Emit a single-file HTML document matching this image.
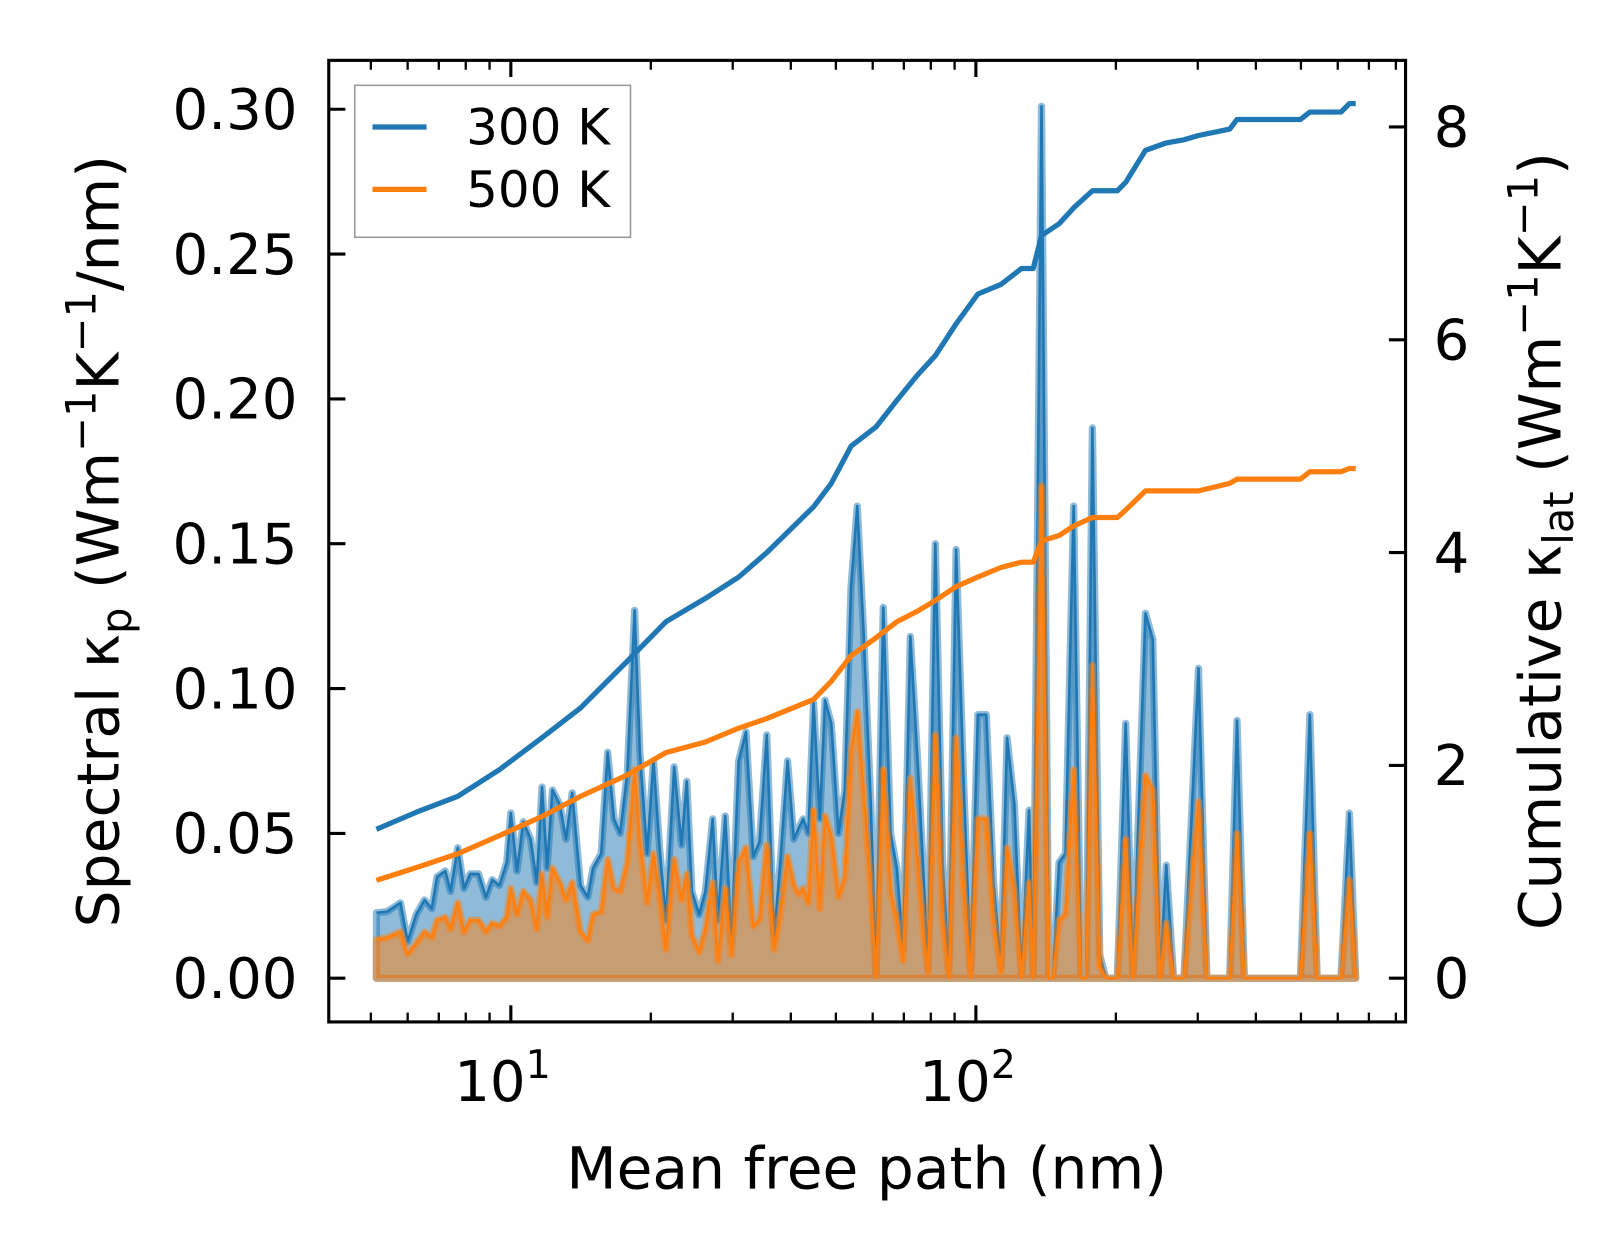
<!DOCTYPE html>
<html><head><meta charset="utf-8">
<style>
html,body{margin:0;padding:0;background:#fff;}
svg{display:block;font-family:"DejaVu Sans","Liberation Sans",sans-serif;}
</style></head>
<body>
<svg id="chart" width="1623" height="1254" viewBox="0 0 1560 1205" preserveAspectRatio="none" xmlns="http://www.w3.org/2000/svg">
<g id="marks"></g>
<g id="axes"></g>
</svg>
<script>
const mfp = [5.14,5.42,5.79,6.00,6.26,6.52,6.76,6.94,7.23,7.42,7.69,7.93,8.18,8.52,8.84,9.12,9.45,9.80,10.0,10.31,10.64,11.03,11.37,11.67,11.97,12.29,12.74,13.14,13.55,14.12,14.64,15.02,15.65,16.15,16.66,17.18,17.81,18.46,18.94,19.64,20.26,20.89,21.54,22.45,23.28,23.89,24.51,25.41,26.20,27.17,27.88,28.91,29.81,30.90,32.04,33.21,34.25,35.51,36.81,37.97,39.36,40.60,41.66,42.53,43.64,44.77,46.18,47.38,48.87,50.66,52.25,53.89,55.59,57.34,59.43,60.98,63.22,65.55,67.61,69.73,72.29,74.93,77.28,78.90,81.80,84.80,87.46,90.67,94.0,97.4,101.0,105.3,109.1,113.2,116.7,121.0,125.4,130.1,132.8,138.4,143.4,146.4,151.0,155.8,162.3,168.3,172.7,178.1,184.6,190.4,201.5,210.0,217.7,231.6,240.1,248.9,256.7,266.1,280.2,301.1,313.8,351.5,364.4,377.8,498.9,522.6,541.8,609.9,635.6,655.7];
const spec300 = [0.0226,0.023,0.026,0.0126,0.022,0.027,0.024,0.035,0.037,0.030,0.045,0.031,0.036,0.036,0.028,0.034,0.032,0.040,0.057,0.037,0.054,0.048,0.033,0.066,0.038,0.065,0.060,0.048,0.064,0.032,0.028,0.038,0.043,0.078,0.055,0.050,0.071,0.127,0.078,0.043,0.075,0.045,0.020,0.073,0.046,0.068,0.030,0.022,0.030,0.055,0.020,0.056,0.012,0.075,0.085,0.042,0.047,0.084,0.014,0.040,0.075,0.048,0.052,0.055,0.050,0.095,0.055,0.096,0.088,0.050,0.065,0.135,0.163,0.120,0.060,0.001,0.128,0.050,0.038,0.010,0.118,0.075,0.033,0.003,0.150,0.040,0.003,0.148,0.070,0.003,0.091,0.091,0.033,0.004,0.083,0.060,0.0,0.058,0.0,0.301,0.0,0.0,0.040,0.043,0.163,0.0,0.0,0.190,0.008,0.0,0.0,0.088,0.0,0.126,0.117,0.0,0.039,0.0,0.0,0.107,0.0,0.0,0.089,0.0,0.0,0.091,0.0,0.0,0.057,0.0];
const spec500 = [0.0133,0.014,0.016,0.0083,0.012,0.016,0.014,0.020,0.021,0.017,0.026,0.016,0.020,0.020,0.016,0.019,0.018,0.021,0.031,0.022,0.030,0.027,0.017,0.036,0.021,0.038,0.033,0.027,0.033,0.016,0.013,0.022,0.023,0.041,0.031,0.030,0.040,0.072,0.047,0.026,0.043,0.028,0.010,0.041,0.027,0.036,0.015,0.009,0.017,0.033,0.006,0.031,0.008,0.040,0.045,0.018,0.020,0.046,0.010,0.022,0.042,0.032,0.029,0.031,0.026,0.058,0.024,0.056,0.049,0.028,0.035,0.078,0.092,0.065,0.030,0.0,0.072,0.030,0.020,0.006,0.069,0.040,0.014,0.002,0.084,0.020,0.0,0.083,0.033,0.0,0.055,0.055,0.020,0.002,0.045,0.030,0.0,0.033,0.0,0.170,0.0,0.0,0.020,0.022,0.072,0.0,0.0,0.108,0.004,0.0,0.0,0.048,0.0,0.070,0.065,0.0,0.019,0.0,0.0,0.061,0.0,0.0,0.050,0.0,0.0,0.050,0.0,0.0,0.034,0.0];
const mfpCum = [5.14,6.26,7.69,9.45,11.67,14.12,17.81,21.54,26.20,30.90,35.51,44.77,48.87,53.89,60.98,67.61,74.93,81.80,90.67,101.0,113.2,125.4,132.8,138.4,151.0,162.3,178.1,201.5,210.0,231.6,256.7,280.2,301.1,351.5,364.4,498.9,522.6,609.9,635.6,655.7];
const cum300 = [1.40,1.56,1.71,1.96,2.26,2.54,2.98,3.35,3.57,3.77,4.00,4.43,4.65,5.00,5.18,5.43,5.67,5.85,6.15,6.43,6.52,6.67,6.67,6.98,7.09,7.24,7.40,7.40,7.48,7.78,7.85,7.88,7.92,7.98,8.07,8.07,8.14,8.14,8.22,8.22];
const cum500 = [0.92,1.04,1.17,1.34,1.52,1.71,1.91,2.12,2.22,2.35,2.44,2.62,2.79,3.03,3.20,3.35,3.45,3.55,3.68,3.77,3.86,3.91,3.91,4.11,4.16,4.25,4.33,4.33,4.40,4.58,4.58,4.58,4.58,4.65,4.69,4.69,4.76,4.76,4.79,4.79];
const leftTicks = [0,0.05,0.10,0.15,0.20,0.25,0.30];
const leftTickLabels = ["0.00","0.05","0.10","0.15","0.20","0.25","0.30"];
const rightTicks = [0,2,4,6,8];
const xMajor = [10,100];
const xMajorExp = ["1","2"];
const xMinor = [5,6,7,8,9,20,30,40,50,60,70,80,90,200,300,400,500,600,700,800];

const NS="http://www.w3.org/2000/svg";
const L=316,R=1351,T=58,B=982;
function xs(v){return 491+447*Math.log10(v/10);}
function yl(v){return 940-v*2783.4;}
function yr(v){return 940-v*102.25;}
function mk(tag,attrs,parent){const e=document.createElementNS(NS,tag);for(const k in attrs)e.setAttribute(k,attrs[k]);parent.appendChild(e);return e;}
const marks=document.getElementById('marks');
const axes=document.getElementById('axes');

function areaPath(vals){let d='M'+xs(mfp[0])+','+yl(0);vals.forEach((v,i)=>{d+=' L'+xs(mfp[i]).toFixed(1)+','+yl(v).toFixed(1);});d+=' L'+xs(mfp[mfp.length-1])+','+yl(0)+' Z';return d;}
function linePath(xsArr,vals,yf){return vals.map((v,i)=>(i?'L':'M')+xs(xsArr[i]).toFixed(1)+','+yf(v).toFixed(1)).join(' ');}

let a=mk('path',{d:areaPath(spec300),fill:'#1f77b4','fill-opacity':0.5,stroke:'#1f77b4','stroke-opacity':0.5,'stroke-width':7,'stroke-linejoin':'round'},marks);


let l=mk('path',{d:linePath(mfp,spec300,yl),fill:'none',stroke:'#1f77b4','stroke-width':2.5,'stroke-linejoin':'round'},marks);


a=mk('path',{d:areaPath(spec500),fill:'#ff7f0e','fill-opacity':0.5,stroke:'#ff7f0e','stroke-opacity':0.5,'stroke-width':7,'stroke-linejoin':'round'},marks);


l=mk('path',{d:linePath(mfp,spec500,yl),fill:'none',stroke:'#ff7f0e','stroke-width':2.5,'stroke-linejoin':'round'},marks);


l=mk('path',{d:linePath(mfpCum,cum300,yr),fill:'none',stroke:'#1f77b4','stroke-width':5,'stroke-linejoin':'round'},marks);


l=mk('path',{d:linePath(mfpCum,cum500,yr),fill:'none',stroke:'#ff7f0e','stroke-width':5,'stroke-linejoin':'round'},marks);



let f=mk('rect',{x:L,y:T,width:R-L,height:B-T,fill:'none',stroke:'#000','stroke-width':3},axes);



leftTicks.forEach((v,i)=>{
  const y=yl(v);
  let t=mk('line',{x1:L,x2:L+16,y1:y,y2:y,stroke:'#000','stroke-width':3},axes);
  
  
  let tx=mk('text',{x:286,y:y+19,'font-size':54,'text-anchor':'end'},axes);
  tx.textContent=leftTickLabels[i];
  
  
});
rightTicks.forEach(v=>{
  const y=yr(v);
  let t=mk('line',{x1:R-16,x2:R,y1:y,y2:y,stroke:'#000','stroke-width':3},axes);
  
  
  let tx=mk('text',{x:1378,y:y+19,'font-size':54},axes);
  tx.textContent=String(v);
  
  
});
xMajor.forEach((v,i)=>{
  const x=xs(v);
  [[B,B-16],[T,T+16]].forEach(p=>{
    let t=mk('line',{x1:x,x2:x,y1:p[0],y2:p[1],stroke:'#000','stroke-width':3},axes);
    
    
  });
  let tx=mk('text',{x:x-8,y:1058,'font-size':54,'text-anchor':'middle'},axes);
  tx.textContent='10';
  let s=mk('tspan',{dy:-22,'font-size':38},tx);
  s.textContent=xMajorExp[i];
  
  
});
xMinor.forEach(v=>{
  const x=xs(v);
  [[B,B-9],[T,T+9]].forEach(p=>{
    let t=mk('line',{x1:x,x2:x,y1:p[0],y2:p[1],stroke:'#000','stroke-width':2.2},axes);
    
    
  });
});
</script>
<svg style="position:absolute;left:0;top:0" width="1623" height="1254" viewBox="0 0 1560 1205" preserveAspectRatio="none" xmlns="http://www.w3.org/2000/svg" font-family="DejaVu Sans, Liberation Sans, sans-serif">
  <g>
    <rect x="341" y="82" width="265" height="146" fill="#fff" fill-opacity="0.8" stroke="#999" stroke-width="1.5"/>
    <line x1="358" y1="122" x2="410" y2="122" stroke="#1f77b4" stroke-width="5"/>
    <text x="448" y="139" font-size="48">300 K</text>
    <line x1="358" y1="182" x2="410" y2="182" stroke="#ff7f0e" stroke-width="5"/>
    <text x="448" y="199" font-size="48">500 K</text>
  </g>
  <text x="833" y="1142" font-size="56" text-anchor="middle">Mean free path (nm)</text>
  <text transform="translate(114,520) rotate(-90)" font-size="56" text-anchor="middle">Spectral κ<tspan font-size="40" dy="12">p</tspan><tspan dy="-12"> (Wm</tspan><tspan font-size="40" dy="-22">−1</tspan><tspan dy="22">K</tspan><tspan font-size="40" dy="-22">−1</tspan><tspan dy="22">/nm)</tspan></text>
  <text transform="translate(1500,520) rotate(-90)" font-size="56" text-anchor="middle">Cumulative κ<tspan font-size="40" dy="12">lat</tspan><tspan dy="-12"> (Wm</tspan><tspan font-size="40" dy="-22">−1</tspan><tspan dy="22">K</tspan><tspan font-size="40" dy="-22">−1</tspan><tspan dy="22">)</tspan></text>
</svg>
</body></html>
